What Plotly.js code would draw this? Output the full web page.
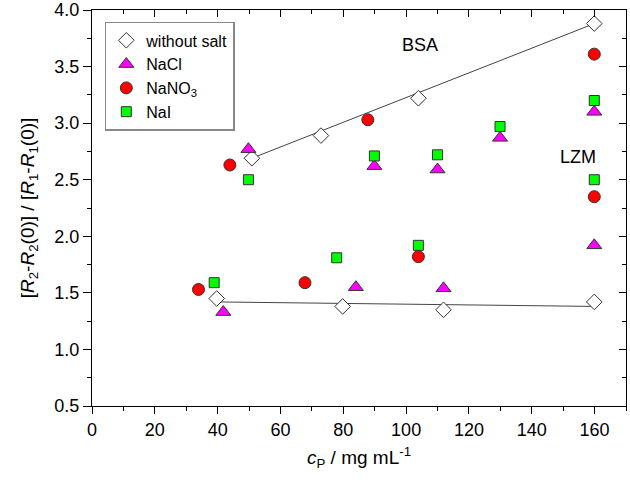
<!DOCTYPE html>
<html><head><meta charset="utf-8">
<script src="https://cdn.plot.ly/plotly-3.0.1.min.js"></script>
<style>html,body{margin:0;padding:0;background:#fff}#chart{width:630px;height:486px}</style>
</head><body><div id="chart"></div>
<script>
// without salt
const noSaltX = [50.9, 72.9, 103.9, 159.9, 39.7, 79.8, 111.9, 159.9];
const noSaltY = [2.69, 2.89, 3.22, 3.88, 1.45, 1.38, 1.35, 1.42];
// NaCl
const naclX = [49.8, 89.9, 110.0, 129.9, 159.9, 159.9, 41.8, 84.0, 111.9];
const naclY = [2.77, 2.62, 2.59, 2.87, 3.10, 1.92, 1.33, 1.55, 1.54];
// NaNO3
const nano3X = [43.9, 87.8, 159.9, 159.9, 33.9, 67.8, 103.9];
const nano3Y = [2.63, 3.03, 3.61, 2.35, 1.53, 1.59, 1.82];
// NaI
const naiX = [49.8, 89.9, 110.0, 129.9, 159.9, 159.9, 38.9, 77.9, 103.9];
const naiY = [2.50, 2.71, 2.72, 2.97, 3.20, 2.50, 1.59, 1.81, 1.92];
// linear fits
const bsaFitX = [50.9, 159.9];
const bsaFitY = [2.69, 3.88];
const lzmFitX = [39.7, 159.9];
const lzmFitY = [1.42, 1.38];

const lineStyle = {color: '#444', width: 1};
const outline = {color: '#333', width: 1};
const traces = [
  {x: bsaFitX, y: bsaFitY, mode: 'lines', line: lineStyle, showlegend: false, hoverinfo: 'skip'},
  {x: lzmFitX, y: lzmFitY, mode: 'lines', line: lineStyle, showlegend: false, hoverinfo: 'skip'},
  {x: noSaltX, y: noSaltY, mode: 'markers', name: 'without salt',
   marker: {symbol: 'diamond', size: 12, color: '#fff', line: {color: '#333', width: 1}}},
  {x: naclX, y: naclY, mode: 'markers', name: 'NaCl',
   marker: {symbol: 'triangle-up', size: 13, color: '#ff00ff', line: outline}},
  {x: nano3X, y: nano3Y, mode: 'markers', name: 'NaNO<sub>3</sub>',
   marker: {symbol: 'circle', size: 12, color: '#ff0000', line: outline}},
  {x: naiX, y: naiY, mode: 'markers', name: 'NaI',
   marker: {symbol: 'square', size: 10, color: '#00ff00', line: outline}},
  {x: [], y: [], xaxis: 'x2', yaxis: 'y2', showlegend: false, hoverinfo: 'skip'}
];

const axisCommon = {showgrid: false, zeroline: false, showline: true, linecolor: '#000', linewidth: 1,
  tickcolor: '#000', tickwidth: 1};
const layout = {
  width: 630, height: 486,
  margin: {l: 92, r: 4, t: 10, b: 80},
  paper_bgcolor: '#fff', plot_bgcolor: '#fff',
  font: {family: 'Liberation Sans, Arial, sans-serif', color: '#000', size: 18},
  showlegend: true,
  legend: {x: 0.024, y: 0.97, xanchor: 'left', yanchor: 'top', bordercolor: '#888', borderwidth: 1.5,
    bgcolor: '#fff', font: {size: 16}, tracegroupgap: 0},
  xaxis: Object.assign({}, axisCommon, {range: [0, 170], dtick: 20, tick0: 0, ticks: 'outside', ticklen: 7,
    minor: {dtick: 10, ticks: 'outside', ticklen: 4, tickcolor: '#000'},
    title: {text: '<i>c</i><sub>P</sub> / mg mL<sup>-1</sup>', font: {size: 19}, standoff: 12}}),
  yaxis: Object.assign({}, axisCommon, {range: [0.5, 4.0], dtick: 0.5, tick0: 0.5, ticks: 'outside', ticklen: 8,
    tickformat: '.1f',
    minor: {dtick: 0.25, ticks: 'outside', ticklen: 4, tickcolor: '#000'},
    title: {text: '[<i>R</i><sub>2</sub>-<i>R</i><sub>2</sub>(0)] / [<i>R</i><sub>1</sub>-<i>R</i><sub>1</sub>(0)]', font: {size: 19}, standoff: 14}}),
  xaxis2: Object.assign({}, axisCommon, {overlaying: 'x', side: 'top', range: [0, 170], dtick: 20, tick0: 0,
    ticks: 'inside', ticklen: 7, showticklabels: false,
    minor: {dtick: 10, ticks: 'inside', ticklen: 4, tickcolor: '#000'}}),
  yaxis2: Object.assign({}, axisCommon, {overlaying: 'y', side: 'right', range: [0.5, 4.0], dtick: 0.5, tick0: 0.5,
    ticks: 'inside', ticklen: 7, showticklabels: false,
    minor: {dtick: 0.25, ticks: 'inside', ticklen: 4, tickcolor: '#000'}}),
  annotations: [
    {x: 104.5, y: 3.69, xref: 'x', yref: 'y', text: 'BSA', showarrow: false, font: {size: 18}},
    {x: 154.8, y: 2.70, xref: 'x', yref: 'y', text: 'LZM', showarrow: false, font: {size: 18}}
  ]
};
Plotly.newPlot('chart', traces, layout, {displayModeBar: false, staticPlot: true});
</script></body></html>
